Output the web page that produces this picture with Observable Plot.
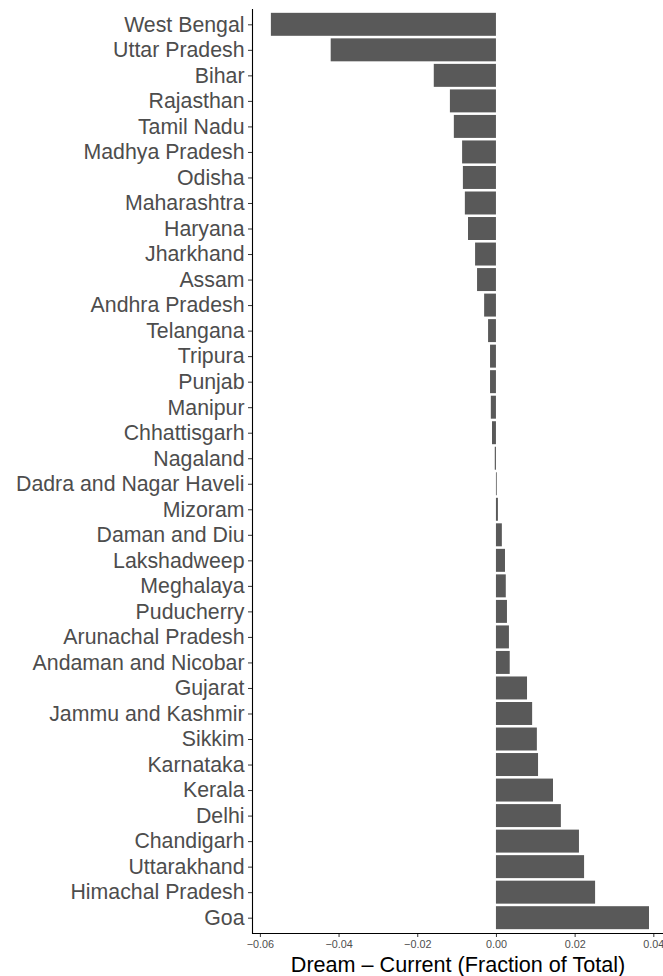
<!DOCTYPE html>
<html>
<head>
<meta charset="utf-8">
<script src="https://cdn.jsdelivr.net/npm/d3@7"></script>
<script src="https://cdn.jsdelivr.net/npm/@observablehq/plot@0.6"></script>
<style>
  html, body { margin: 0; padding: 0; background: #fff; }
  svg text { font-family: "Liberation Sans", Arial, Helvetica, sans-serif; }
</style>
</head>
<body>
<div id="chart"></div>
<script>
const states = ["West Bengal","Uttar Pradesh","Bihar","Rajasthan","Tamil Nadu","Madhya Pradesh","Odisha","Maharashtra","Haryana","Jharkhand","Assam","Andhra Pradesh","Telangana","Tripura","Punjab","Manipur","Chhattisgarh","Nagaland","Dadra and Nagar Haveli","Mizoram","Daman and Diu","Lakshadweep","Meghalaya","Puducherry","Arunachal Pradesh","Andaman and Nicobar","Gujarat","Jammu and Kashmir","Sikkim","Karnataka","Kerala","Delhi","Chandigarh","Uttarakhand","Himachal Pradesh","Goa"];
const values = [-0.0572,-0.0420,-0.0158,-0.0117,-0.0107,-0.0086,-0.0084,-0.0079,-0.0071,-0.0053,-0.0048,-0.0030,-0.0020,-0.0015,-0.0015,-0.0013,-0.0010,-0.0003,0.0002,0.0005,0.0015,0.0023,0.0025,0.0028,0.0033,0.0035,0.0079,0.0092,0.0104,0.0107,0.0145,0.0165,0.0211,0.0224,0.0252,0.0389];
const xTicks = [-0.06,-0.04,-0.02,0.00,0.02,0.04];
const xLabel = "Dream \u2013 Current (Fraction of Total)";

const data = states.map((s, i) => ({state: s, value: values[i]}));

const chart = Plot.plot({
  width: 663,
  height: 976,
  marginLeft: 252,
  marginRight: 0,
  marginTop: 9,
  marginBottom: 43,
  style: {fontFamily: "'Liberation Sans', Arial, Helvetica, sans-serif", background: "#fff"},
  x: {domain: [-0.062, 0.04246]},
  y: {type: "band", domain: states, paddingInner: 0.1, paddingOuter: 0.15, align: 0.5, round: false},
  marks: [
    Plot.barX(data, {x1: 0, x2: "value", y: "state", fill: "#595959"}),
    Plot.axisY({tickSize: 4, tickPadding: 4, fontSize: 21.3, color: "#4d4d4d", stroke: "#333", label: null}),
    Plot.axisX({ticks: xTicks, tickFormat: d3.format(".2f"), tickSize: 4, tickPadding: 3, fontSize: 10.8, color: "#4d4d4d", stroke: "#333", label: null}),
    Plot.ruleX([-0.062], {stroke: "#000", strokeWidth: 1.1}),
    Plot.frame({anchor: "bottom", stroke: "#000", strokeWidth: 1.1}),
    Plot.text([xLabel], {frameAnchor: "bottom", dy: 38, lineAnchor: "bottom", fontSize: 21.6, fill: "#000", text: d => d})
  ]
});
document.getElementById("chart").appendChild(chart);
</script>
</body>
</html>
